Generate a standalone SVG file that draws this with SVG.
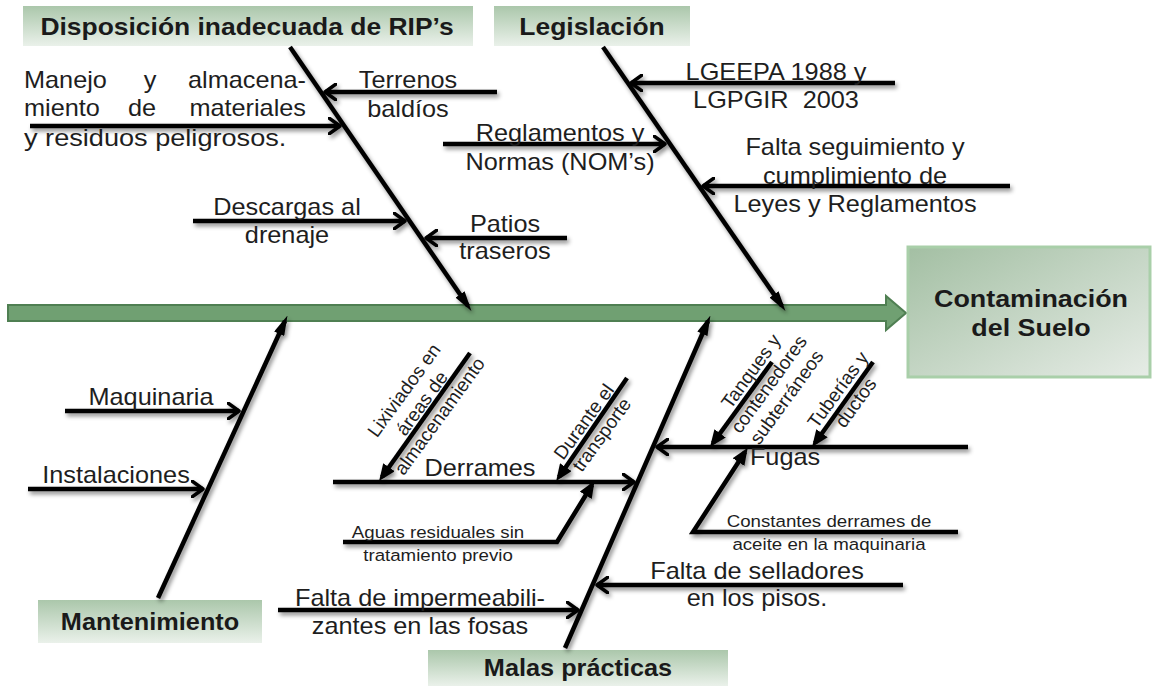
<svg xmlns="http://www.w3.org/2000/svg" width="1153" height="686" viewBox="0 0 1153 686">
<style>
.t{font-family:"Liberation Sans",Arial,sans-serif;font-size:23px;fill:#1e1e1e;text-anchor:middle}
.s{font-size:17px}
.r{font-size:19px}
.h{font-weight:bold;font-size:23px;fill:#1a1a1a}
.ln{stroke:#000;stroke-width:4.5;fill:none}
.box{fill:url(#gh)}
</style>
<defs>
<linearGradient id="gh" x1="0" y1="0" x2="0" y2="1"><stop offset="0" stop-color="#abc7ab"/><stop offset="1" stop-color="#eaf1ea"/></linearGradient>
<linearGradient id="gm" x1="0" y1="0" x2="1" y2="1"><stop offset="0" stop-color="#a3bfa3"/><stop offset="1" stop-color="#e6ece6"/></linearGradient>
<filter id="sh" x="-10%" y="-10%" width="130%" height="130%"><feDropShadow dx="2" dy="3" stdDeviation="2" flood-color="#000" flood-opacity="0.45"/></filter>
<marker id="chev" markerUnits="userSpaceOnUse" viewBox="0 0 14 18" markerWidth="14" markerHeight="18" refX="12" refY="9" orient="auto"><path d="M1,1 L12,9 L1,17" fill="none" stroke="#000" stroke-width="3.5" stroke-linecap="round" stroke-linejoin="round"/></marker>
<marker id="tri" markerUnits="userSpaceOnUse" viewBox="0 0 20 11" markerWidth="20" markerHeight="11" refX="14" refY="5.5" orient="auto"><path d="M0,0 L20,5.5 L0,11 z" fill="#000"/></marker>
<marker id="tri2" markerUnits="userSpaceOnUse" viewBox="0 0 17 14" markerWidth="17" markerHeight="14" refX="12" refY="7" orient="auto"><path d="M0,0 L17,7 L0,14 z" fill="#000"/></marker>
</defs>
<rect width="1153" height="686" fill="#fff"/>

<g id="spine">
<path d="M8,305 H886 V296 L906,313 L886,330 V321 H8 Z" fill="#70a072" stroke="#4f7f52" stroke-width="2"/>
</g>

<g id="box-disposicion">
<rect x="23" y="6" width="450" height="40" class="box"/>
<text class="t h" transform="translate(247 0) scale(1.15 1)" y="35">Disposición inadecuada de RIP’s</text>
</g>
<g id="box-legislacion">
<rect x="494" y="6" width="196" height="40" class="box"/>
<text class="t h" transform="translate(592 0) scale(1.15 1)" y="35">Legislación</text>
</g>
<g id="box-contaminacion">
<rect x="908" y="247" width="242" height="130" fill="url(#gm)" stroke="#a9cfa9" stroke-width="3"/>
<text class="t h" transform="translate(1031 0) scale(1.12 1)" style="font-size:24px"><tspan x="0" y="307">Contaminación</tspan><tspan x="0" y="336">del Suelo</tspan></text>
</g>
<g id="box-mantenimiento">
<rect x="38" y="600" width="224" height="43" class="box"/>
<text class="t h" transform="translate(150 0) scale(1.1 1)" y="630">Mantenimiento</text>
</g>
<g id="box-malas">
<rect x="428" y="650" width="300" height="36" class="box"/>
<text class="t h" transform="translate(578 0) scale(1.1 1)" y="676">Malas prácticas</text>
</g>

<g id="connectors" filter="url(#sh)">
<line class="ln" x1="290" y1="47" x2="468" y2="306" marker-end="url(#tri)"/>
<line class="ln" x1="603" y1="47" x2="782" y2="306" marker-end="url(#tri)"/>
<line class="ln" x1="158" y1="598" x2="285" y2="321" marker-end="url(#tri)"/>
<line class="ln" x1="565" y1="648" x2="708" y2="321" marker-end="url(#tri)"/>

<line class="ln" x1="497" y1="92" x2="325" y2="92" marker-end="url(#chev)"/>
<line class="ln" x1="30" y1="126" x2="340" y2="126" marker-end="url(#chev)"/>
<line class="ln" x1="193" y1="221" x2="405" y2="221" marker-end="url(#chev)"/>
<line class="ln" x1="567" y1="238" x2="426" y2="238" marker-end="url(#chev)"/>

<line class="ln" x1="895" y1="83" x2="631" y2="83" marker-end="url(#chev)"/>
<line class="ln" x1="443" y1="144" x2="665" y2="144" marker-end="url(#chev)"/>
<line class="ln" x1="1010" y1="186" x2="703" y2="186" marker-end="url(#chev)"/>

<line class="ln" x1="65" y1="411" x2="239" y2="411" marker-end="url(#chev)"/>
<line class="ln" x1="28" y1="489" x2="203" y2="489" marker-end="url(#chev)"/>

<line class="ln" x1="333" y1="482" x2="634" y2="482" marker-end="url(#chev)"/>
<line class="ln" x1="470" y1="353" x2="382" y2="477" marker-end="url(#tri2)"/>
<line class="ln" x1="627" y1="378" x2="559" y2="477" marker-end="url(#tri2)"/>
<polyline class="ln" points="343,542 557,542 592,485" marker-end="url(#tri2)"/>

<line class="ln" x1="968" y1="447" x2="657" y2="447" marker-end="url(#chev)"/>
<line class="ln" x1="772" y1="362" x2="713" y2="443" marker-end="url(#tri2)"/>
<line class="ln" x1="873" y1="362" x2="815" y2="443" marker-end="url(#tri2)"/>
<polyline class="ln" points="958,532 693,532 745,452" marker-end="url(#tri2)"/>

<line class="ln" x1="903" y1="585" x2="597" y2="585" marker-end="url(#chev)"/>
<line class="ln" x1="278" y1="610" x2="578" y2="610" marker-end="url(#chev)"/>
</g>

<g id="c-terrenos"><text class="t" transform="translate(408 0) scale(1.1 1)"><tspan x="0" y="88">Terrenos</tspan><tspan x="0" y="117">baldíos</tspan></text></g>
<g id="c-manejo">
<text class="t" transform="translate(24 0) scale(1.1 1)" style="text-anchor:start" y="88">Manejo</text>
<text class="t" transform="translate(150 0) scale(1.1 1)" y="88">y</text>
<text class="t" transform="translate(306 0) scale(1.1 1)" style="text-anchor:end" y="88">almacena-</text>
<text class="t" transform="translate(24 0) scale(1.1 1)" style="text-anchor:start" y="116">miento</text>
<text class="t" transform="translate(142 0) scale(1.1 1)" y="116">de</text>
<text class="t" transform="translate(306 0) scale(1.1 1)" style="text-anchor:end" y="116">materiales</text>
<text class="t" transform="translate(24 0) scale(1.18 1)" style="text-anchor:start" y="146">y residuos peligrosos.</text>
</g>
<g id="c-descargas"><text class="t" transform="translate(287 0) scale(1.1 1)"><tspan x="0" y="215">Descargas al</tspan><tspan x="0" y="243">drenaje</tspan></text></g>
<g id="c-patios"><text class="t" transform="translate(505 0) scale(1.1 1)"><tspan x="0" y="232">Patios</tspan><tspan x="0" y="259">traseros</tspan></text></g>

<g id="c-lgeepa"><text class="t" transform="translate(776 0) scale(1.1 1)" xml:space="preserve"><tspan x="0" y="80">LGEEPA 1988 y</tspan><tspan x="0" y="108">LGPGIR  2003</tspan></text></g>
<g id="c-reglamentos"><text class="t" transform="translate(560 0) scale(1.1 1)"><tspan x="0" y="141">Reglamentos y</tspan><tspan x="0" y="170">Normas (NOM’s)</tspan></text></g>
<g id="c-falta-seg"><text class="t" transform="translate(855 0) scale(1.1 1)"><tspan x="0" y="155">Falta seguimiento y</tspan><tspan x="0" y="184">cumplimiento de</tspan><tspan x="0" y="212">Leyes y Reglamentos</tspan></text></g>

<g id="c-maquinaria"><text class="t" transform="translate(151 0) scale(1.1 1)" y="405">Maquinaria</text></g>
<g id="c-instalaciones"><text class="t" transform="translate(116 0) scale(1.1 1)" y="483">Instalaciones</text></g>

<g id="c-derrames"><text class="t" transform="translate(480 0) scale(1.1 1)" y="476">Derrames</text></g>
<g id="c-lixiviados"><text class="t r" transform="translate(427 407) rotate(-54)"><tspan x="0" y="-22">Lixiviados en</tspan><tspan x="0" y="0">áreas de</tspan><tspan x="0" y="22">almacenamiento</tspan></text></g>
<g id="c-durante"><text class="t r" transform="translate(598 432) rotate(-54)"><tspan x="0" y="-11">Durante el</tspan><tspan x="0" y="11">transporte</tspan></text></g>
<g id="c-aguas"><text class="t s" transform="translate(438 0) scale(1.1 1)"><tspan x="0" y="538">Aguas residuales sin</tspan><tspan x="0" y="561">tratamiento previo</tspan></text></g>

<g id="c-fugas"><text class="t" transform="translate(785 0) scale(1.1 1)" y="465">Fugas</text></g>
<g id="c-tanques"><text class="t r" transform="translate(774 388) rotate(-54)"><tspan x="0" y="-22">Tanques y</tspan><tspan x="0" y="0">contenedores</tspan><tspan x="0" y="22">subterráneos</tspan></text></g>
<g id="c-tuberias"><text class="t r" transform="translate(852 400) rotate(-54)"><tspan x="0" y="-11">Tuberías y</tspan><tspan x="0" y="11">ductos</tspan></text></g>
<g id="c-constantes"><text class="t s" transform="translate(829 0) scale(1.1 1)"><tspan x="0" y="527">Constantes derrames de</tspan><tspan x="0" y="550">aceite en la maquinaria</tspan></text></g>

<g id="c-selladores"><text class="t" transform="translate(757 0) scale(1.1 1)"><tspan x="0" y="579">Falta de selladores</tspan><tspan x="0" y="606">en los pisos.</tspan></text></g>
<g id="c-impermeab"><text class="t" transform="translate(420 0) scale(1.1 1)"><tspan x="0" y="606">Falta de impermeabili-</tspan><tspan x="0" y="634">zantes en las fosas</tspan></text></g>
</svg>
